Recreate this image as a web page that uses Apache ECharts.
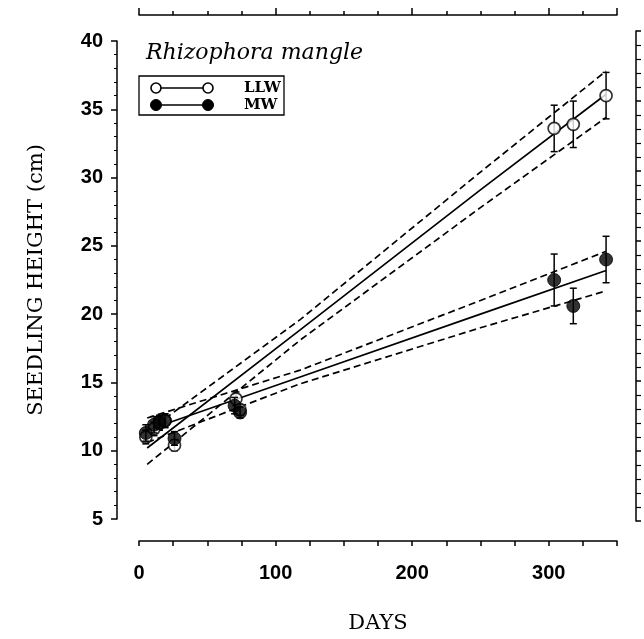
<!DOCTYPE html>
<html><head><meta charset="utf-8">
<script src="https://cdn.jsdelivr.net/npm/echarts@6/dist/echarts.min.js"></script>
<style>html,body{margin:0;padding:0;background:#fff}#c{width:644px;height:639px}</style>
</head><body><div id="c"></div>
<script>
// ---- data ----
const xTickLabels = [0, 100, 200, 300];
const yTickLabels = [5, 10, 15, 20, 25, 30, 35, 40];

const llwDays = [5, 11, 15, 19, 26, 71, 74, 304, 318, 342];
const llwMean = [11.0, 11.6, 12.0, 12.2, 10.4, 13.8, 13.0, 33.6, 33.9, 36.0];
const llwErr  = [0.5, 0.5, 0.5, 0.5, 0.4, 0.5, 0.4, 1.7, 1.7, 1.7];

const mwDays = [5, 11, 15, 19, 26, 70, 74, 304, 318, 342];
const mwMean = [11.3, 11.9, 12.1, 12.2, 10.9, 13.3, 12.8, 22.5, 20.6, 24.0];
const mwErr  = [0.6, 0.6, 0.5, 0.5, 0.5, 0.6, 0.4, 1.9, 1.3, 1.7];

const fitDays  = [6, 118, 250, 342];
const llwFit   = [10.2, 18.85, 29.1, 36.1];
const llwUpper = [11.4, 19.6, 30.4, 37.8];
const llwLower = [9.0, 18.1, 27.8, 34.4];
const mwFit    = [11.5, 15.4, 20.0, 23.2];
const mwUpper  = [12.4, 15.9, 21.0, 24.6];
const mwLower  = [10.6, 14.9, 19.0, 21.7];

// ---- helpers ----
const pairs = (xs, ys) => xs.map((x, i) => [x, ys[i]]);
const errData = (xs, m, e) => xs.map((x, i) => [x, m[i] - e[i], m[i] + e[i]]);

function errRender(params, api) {
  const x = api.value(0);
  const p1 = api.coord([x, api.value(1)]);
  const p2 = api.coord([x, api.value(2)]);
  const w = 3.5;
  const st = { stroke: '#000', lineWidth: 1.5 };
  return { type: 'group', children: [
    { type: 'line', shape: { x1: p1[0], y1: p1[1], x2: p2[0], y2: p2[1] }, style: st },
    { type: 'line', shape: { x1: p1[0] - w, y1: p1[1], x2: p1[0] + w, y2: p1[1] }, style: st },
    { type: 'line', shape: { x1: p2[0] - w, y1: p2[1], x2: p2[0] + w, y2: p2[1] }, style: st }
  ]};
}

const tickFont = { color: '#000', fontFamily: 'Liberation Sans', fontWeight: 'bold', fontSize: 20 };
const serif = 'DejaVu Serif';
const blackLine = { show: true, onZero: false, lineStyle: { color: '#000', width: 1.5 } };
const dash = { color: '#000', width: 1.7, type: [7, 4] };

const chart = echarts.init(document.getElementById('c'), null, { renderer: 'canvas' });
chart.setOption({
  animation: false,
  backgroundColor: '#fff',
  title: {
    text: 'Rhizophora mangle', left: 141, top: 37,
    textStyle: { fontFamily: serif, fontStyle: 'italic', fontWeight: 'normal', fontSize: 22, color: '#000' }
  },
  grid: [
    { left: 139, right: 27, top: 41, bottom: 120 },
    { left: 636, width: 8, top: 31, bottom: 118 }
  ],
  xAxis: [
    { gridIndex: 0, type: 'value', min: 0, max: 350, interval: 25, position: 'bottom', offset: 22,
      axisLine: blackLine,
      axisTick: { show: true, inside: false, length: 5, lineStyle: { color: '#000', width: 1.5 } },
      axisLabel: { ...tickFont, margin: 22, formatter: v => xTickLabels.includes(v) ? String(v) : '' },
      splitLine: { show: false },
      name: 'DAYS', nameLocation: 'middle', nameGap: 72,
      nameTextStyle: { fontFamily: serif, fontSize: 21, color: '#000' } },
    { gridIndex: 0, type: 'value', min: 0, max: 350, interval: 100, position: 'top', offset: 26,
      axisLine: blackLine,
      axisTick: { show: true, inside: false, length: 7, lineStyle: { color: '#000', width: 1.5 } },
      axisLabel: { show: false }, splitLine: { show: false } },
    { gridIndex: 0, type: 'value', min: 0, max: 350, interval: 25, position: 'top', offset: 26,
      axisLine: { show: false },
      axisTick: { show: true, inside: false, length: 4, lineStyle: { color: '#000', width: 1.5 } },
      axisLabel: { show: false }, splitLine: { show: false } },
    { gridIndex: 1, type: 'value', min: 0, max: 1, show: false }
  ],
  yAxis: [
    { gridIndex: 0, type: 'value', min: 5, max: 40, interval: 5, position: 'left', offset: 22,
      axisLine: blackLine,
      axisTick: { show: true, inside: false, length: 6, lineStyle: { color: '#000', width: 1.5 } },
      minorTick: { show: true, splitNumber: 5, length: 3, lineStyle: { color: '#000', width: 1 } },
      axisLabel: { ...tickFont, margin: 14, formatter: v => yTickLabels.includes(v) ? String(v) : '' },
      splitLine: { show: false },
      name: 'SEEDLING HEIGHT (cm)', nameLocation: 'middle', nameGap: 70, nameRotate: 90,
      nameTextStyle: { fontFamily: serif, fontSize: 21, color: '#000' } },
    { gridIndex: 1, type: 'value', min: 5, max: 40, interval: 5, position: 'left',
      axisLine: blackLine,
      axisTick: { show: true, inside: true, length: 5, lineStyle: { color: '#000', width: 1.5 } },
      minorTick: { show: true, splitNumber: 5, length: 5, lineStyle: { color: '#000', width: 1.2 } },
      axisLabel: { show: false }, splitLine: { show: false } }
  ],
  series: [
    { type: 'line', data: pairs(fitDays, llwUpper), symbol: 'none', lineStyle: dash, z: 2 },
    { type: 'line', data: pairs(fitDays, llwLower), symbol: 'none', lineStyle: dash, z: 2 },
    { type: 'line', data: pairs(fitDays, mwUpper), symbol: 'none', lineStyle: dash, z: 2 },
    { type: 'line', data: pairs(fitDays, mwLower), symbol: 'none', lineStyle: dash, z: 2 },
    { type: 'line', data: pairs(fitDays, llwFit), symbol: 'none', lineStyle: { color: '#000', width: 1.7 }, z: 2 },
    { type: 'line', data: pairs(fitDays, mwFit), symbol: 'none', lineStyle: { color: '#000', width: 1.7 }, z: 2 },
    { type: 'custom', data: errData(llwDays, llwMean, llwErr), renderItem: errRender, z: 3 },
    { type: 'scatter', data: pairs(llwDays, llwMean), symbol: 'circle', symbolSize: 12,
      itemStyle: { color: '#fff', borderColor: '#000', borderWidth: 1.7 }, z: 4 },
    { type: 'custom', data: errData(mwDays, mwMean, mwErr), renderItem: errRender, z: 5 },
    { type: 'scatter', data: pairs(mwDays, mwMean), symbol: 'circle', symbolSize: 13,
      itemStyle: { color: '#000', borderColor: '#000', borderWidth: 1 }, z: 6 }
  ],
  graphic: [
    { type: 'rect', shape: { x: 139, y: 76, width: 145, height: 39 },
      style: { fill: '#fff', stroke: '#000', lineWidth: 1.3 }, z: 10 },
    { type: 'line', shape: { x1: 156, y1: 88, x2: 208, y2: 88 }, style: { stroke: '#000', lineWidth: 1.5 }, z: 11 },
    { type: 'circle', shape: { cx: 156, cy: 88, r: 5 }, style: { fill: '#fff', stroke: '#000', lineWidth: 1.6 }, z: 12 },
    { type: 'circle', shape: { cx: 208, cy: 88, r: 5 }, style: { fill: '#fff', stroke: '#000', lineWidth: 1.6 }, z: 12 },
    { type: 'text', style: { x: 244, y: 88, text: 'LLW', fill: '#000', font: 'bold 15px "DejaVu Serif"', verticalAlign: 'middle' }, z: 12 },
    { type: 'line', shape: { x1: 156, y1: 105, x2: 208, y2: 105 }, style: { stroke: '#000', lineWidth: 1.5 }, z: 11 },
    { type: 'circle', shape: { cx: 156, cy: 105, r: 5.5 }, style: { fill: '#000', stroke: '#000', lineWidth: 1 }, z: 12 },
    { type: 'circle', shape: { cx: 208, cy: 105, r: 5.5 }, style: { fill: '#000', stroke: '#000', lineWidth: 1 }, z: 12 },
    { type: 'text', style: { x: 244, y: 105, text: 'MW', fill: '#000', font: 'bold 15px "DejaVu Serif"', verticalAlign: 'middle' }, z: 12 }
  ]
});
</script></body></html>
